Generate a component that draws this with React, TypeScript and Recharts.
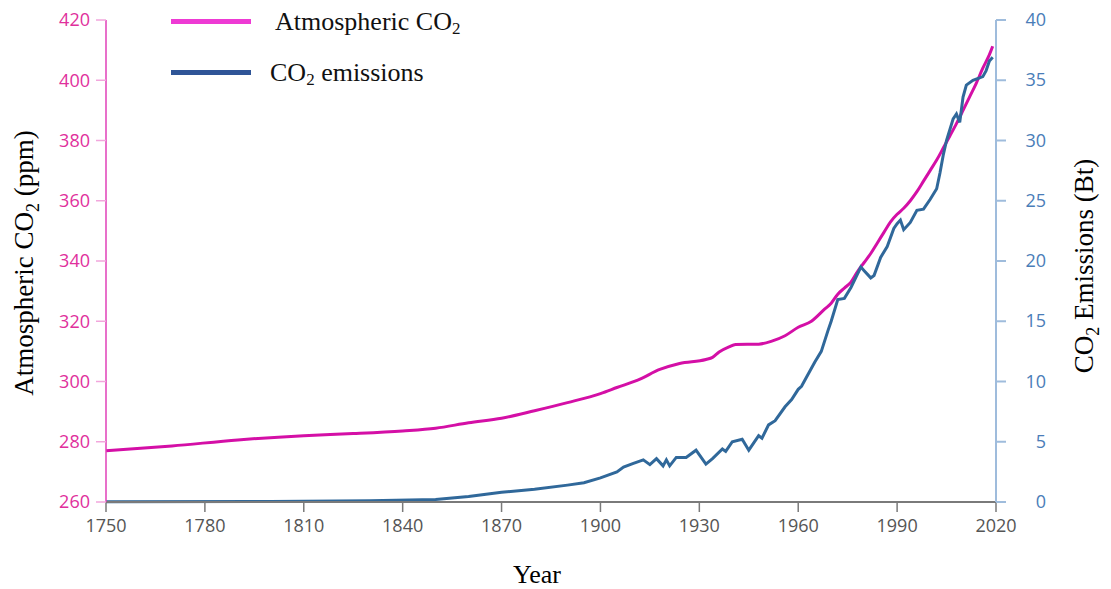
import { Legend, Line, LineChart, XAxis, YAxis } from "recharts";

// Atmospheric CO2 concentration (ppm)
const co2Years = [
  1750, 1770, 1790, 1810, 1825, 1840, 1850, 1860, 1870, 1880, 1890, 1900, 1905,
  1912, 1918, 1924, 1932, 1934, 1936, 1939, 1941, 1948, 1952, 1956, 1960, 1964,
  1968, 1970, 1972, 1974, 1976, 1978, 1980, 1982, 1984, 1986, 1988, 1990, 1992,
  1994, 1996, 1998, 2000, 2002, 2004, 2006, 2008, 2010, 2012, 2014, 2016, 2018,
  2019,
];
const co2Ppm = [
  277.0, 278.6, 280.6, 282.0, 282.7, 283.6, 284.5, 286.3, 287.8, 290.3, 293.0,
  296.0, 298.0, 300.8, 304.0, 306.0, 307.3, 308.0, 309.8, 311.5, 312.3, 312.4,
  313.4, 315.2, 318.0, 320.0, 324.0, 326.0, 329.0, 331.0, 333.0, 336.5, 339.5,
  342.5, 346.0, 349.5, 353.0, 355.5, 357.5, 360.0, 363.0, 366.5, 370.0, 373.5,
  377.5, 381.5, 385.6, 390.0, 394.5, 399.0, 404.0, 408.5, 411.3,
];

// Annual CO2 emissions (billion tonnes)
const emissionYears = [
  1750, 1800, 1830, 1850, 1860, 1870, 1880, 1890, 1895, 1900, 1905, 1907, 1910,
  1913, 1915, 1917, 1919, 1920, 1921, 1923, 1926, 1929, 1932, 1934, 1937, 1938,
  1940, 1943, 1945, 1948, 1949, 1951, 1953, 1956, 1958, 1960, 1961, 1963, 1965,
  1967, 1969, 1970, 1972, 1974, 1976, 1979, 1980, 1982, 1983, 1985, 1987, 1989,
  1990, 1991, 1992, 1994, 1996, 1998, 2000, 2002, 2003, 2004, 2005, 2007, 2008,
  2009, 2010, 2011, 2013, 2015, 2016, 2017, 2018, 2019,
];
const emissionBt = [
  0.02, 0.05, 0.1, 0.2, 0.45, 0.8, 1.05, 1.4, 1.6, 2.0, 2.5, 2.9, 3.2, 3.5, 3.1,
  3.6, 3.0, 3.5, 3.0, 3.7, 3.7, 4.3, 3.15, 3.6, 4.4, 4.2, 5.0, 5.2, 4.3, 5.5,
  5.3, 6.4, 6.75, 7.9, 8.5, 9.35, 9.6, 10.6, 11.6, 12.5, 14.2, 15.0, 16.8, 16.9,
  17.8, 19.5, 19.2, 18.6, 18.8, 20.3, 21.2, 22.7, 23.1, 23.4, 22.6, 23.2, 24.2,
  24.3, 25.1, 26.0, 27.3, 28.8, 30.0, 31.8, 32.2, 31.5, 33.6, 34.6, 35.0, 35.2,
  35.3, 35.8, 36.6, 36.9,
];

const yearTicks = [1750, 1780, 1810, 1840, 1870, 1900, 1930, 1960, 1990, 2020];
const ppmTicks = [260, 280, 300, 320, 340, 360, 380, 400, 420];
const btTicks = [0, 5, 10, 15, 20, 25, 30, 35, 40];

const co2Data = co2Years.map((year, i) => ({ year, ppm: co2Ppm[i] }));
const emissionData = emissionYears.map((year, i) => ({ year, bt: emissionBt[i] }));

const PINK = "#d40fa6";
const BLUE = "#30689a";
const SERIF = "'Liberation Serif', 'Times New Roman', serif";
const SANS = "'Open Sans', sans-serif";

function leftTitle({ viewBox }: any) {
  const x = viewBox.x - 13;
  const y = viewBox.y + viewBox.height / 2 + 2;
  return (
    <text
      x={x}
      y={y}
      transform={`rotate(-90 ${x} ${y})`}
      textAnchor="middle"
      fontFamily={SERIF}
      fontSize={27}
      fill="#000"
    >
      Atmospheric CO
      <tspan fontSize={18} dy={6}>2</tspan>
      <tspan dy={-6}> (ppm)</tspan>
    </text>
  );
}

function rightTitle({ viewBox }: any) {
  const x = viewBox.x + 97;
  const y = viewBox.y + viewBox.height / 2 + 5;
  return (
    <text
      x={x}
      y={y}
      transform={`rotate(-90 ${x} ${y})`}
      textAnchor="middle"
      fontFamily={SERIF}
      fontSize={27}
      fill="#000"
    >
      CO
      <tspan fontSize={18} dy={6}>2</tspan>
      <tspan dy={-6}> Emissions (Bt)</tspan>
    </text>
  );
}

function yearTitle({ viewBox }: any) {
  return (
    <text
      x={viewBox.x + viewBox.width / 2 - 14}
      y={viewBox.y + 81}
      textAnchor="middle"
      fontFamily={SERIF}
      fontSize={26}
      fill="#000"
    >
      Year
    </text>
  );
}

// right-hand ticks are right-aligned in a column
function BtTick({ x, y, payload }: any) {
  return (
    <text
      x={x + 38}
      y={y}
      dy={6}
      textAnchor="end"
      fontFamily={SANS}
      fontSize={18}
      fill="#4a7db8"
    >
      {payload.value}
    </text>
  );
}

function SeriesKey() {
  const row = (top: number, color: string, label: React.ReactNode, left: number) => (
    <>
      <div
        style={{
          position: "absolute",
          left: 171,
          top: top + 10,
          width: 80,
          height: 5,
          background: color,
        }}
      />
      <div
        style={{
          position: "absolute",
          left,
          top,
          lineHeight: "25px",
          whiteSpace: "nowrap",
          fontFamily: SERIF,
          fontSize: 26,
          color: "#111",
        }}
      >
        {label}
      </div>
    </>
  );
  const sub = (
    <span style={{ fontSize: 17, position: "relative", top: 4 }}>2</span>
  );
  return (
    <div style={{ position: "relative", width: 480, height: 95 }}>
      {row(9, "#ee3ad4", <>Atmospheric CO{sub}</>, 275)}
      {row(60, "#2f5597", <>CO{sub} emissions</>, 270)}
    </div>
  );
}

export default function App() {
  return (
    <div style={{ position: "absolute", left: 0, top: 0, background: "#fff" }}>
      <LineChart
        width={1111}
        height={589}
        margin={{ top: 20, right: 55, left: 46, bottom: 57 }}
      >
        <XAxis
          dataKey="year"
          type="number"
          domain={[1750, 2020]}
          ticks={yearTicks}
          height={30}
          tickSize={10}
          tickMargin={7}
          axisLine={{ stroke: "#7a7a7a", strokeWidth: 2 }}
          tickLine={{ stroke: "#7a7a7a", strokeWidth: 1.5 }}
          tick={{ fontFamily: SANS, fontSize: 18, fill: "#555" }}
          label={yearTitle}
        />
        <YAxis
          yAxisId="ppm"
          orientation="left"
          domain={[260, 420]}
          ticks={ppmTicks}
          width={60}
          tickSize={10}
          tickMargin={6}
          axisLine={{ stroke: "#e040b8", strokeWidth: 1.5 }}
          tickLine={{ stroke: "#f2a6dc", strokeWidth: 1.5 }}
          tick={{ fontFamily: SANS, fontSize: 18, fill: "#e0309c" }}
          label={leftTitle}
        />
        <YAxis
          yAxisId="bt"
          orientation="right"
          domain={[0, 40]}
          ticks={btTicks}
          width={60}
          tickSize={10}
          axisLine={{ stroke: "#9fbcdc", strokeWidth: 2 }}
          tickLine={{ stroke: "#9fbcdc", strokeWidth: 2 }}
          tick={<BtTick />}
          label={rightTitle}
        />
        <Legend
          layout="horizontal"
          verticalAlign="middle"
          align="center"
          content={() => <SeriesKey />}
          wrapperStyle={{ top: 0, left: 0, width: 480, height: 95 }}
        />
        <Line
          yAxisId="ppm"
          data={co2Data}
          dataKey="ppm"
          name="Atmospheric CO2"
          type="monotone"
          stroke={PINK}
          strokeWidth={3}
          dot={false}
          isAnimationActive={false}
        />
        <Line
          yAxisId="bt"
          data={emissionData}
          dataKey="bt"
          name="CO2 emissions"
          type="linear"
          stroke={BLUE}
          strokeWidth={3}
          dot={false}
          isAnimationActive={false}
        />
      </LineChart>
    </div>
  );
}
